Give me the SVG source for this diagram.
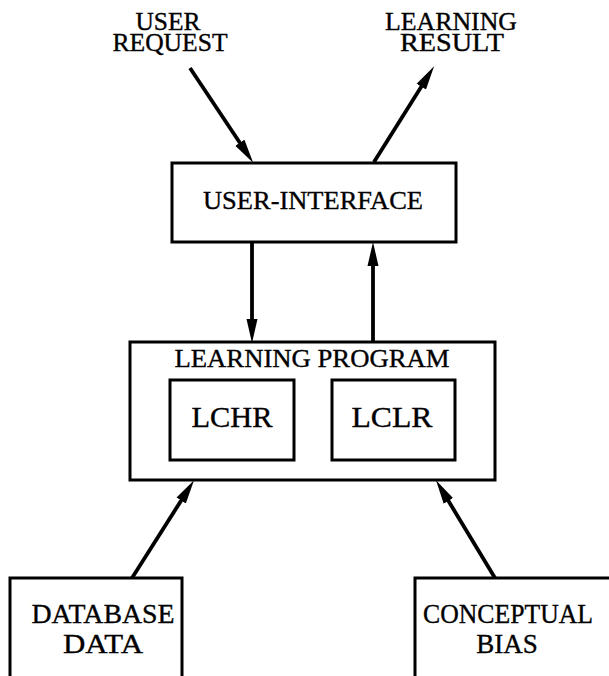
<svg xmlns="http://www.w3.org/2000/svg" width="609" height="676" viewBox="0 0 609 676">
<style>
.box{fill:#fff;stroke:#000;stroke-width:3}
.lbl{font-family:"Liberation Serif","Times New Roman",serif;font-size:26px;fill:#000;stroke:#000;stroke-width:0.35;text-anchor:middle}
.top{font-size:25px}
.big{font-size:30px}
.low{font-size:27px}
.conn{stroke:#000;stroke-width:3.8;fill:none;marker-end:url(#ah)}
</style>
<defs>
<marker id="ah" markerUnits="userSpaceOnUse" markerWidth="26" markerHeight="12" refX="12" refY="6" orient="auto">
<path d="M0,0.5 L24,6 L0,11.5 Z" fill="#000"/>
</marker>
</defs>
<rect width="609" height="676" fill="#fff"/>
<g id="user-request">
<text class="lbl top" x="168" y="30" textLength="65" lengthAdjust="spacingAndGlyphs">USER</text>
<text class="lbl top" x="170" y="51" textLength="115" lengthAdjust="spacingAndGlyphs">REQUEST</text>
</g>
<g id="learning-result">
<text class="lbl top" x="451" y="30" textLength="132" lengthAdjust="spacingAndGlyphs">LEARNING</text>
<text class="lbl top" x="452" y="51" textLength="104" lengthAdjust="spacingAndGlyphs">RESULT</text>
</g>
<g id="user-interface">
<rect class="box" x="172" y="163" width="284" height="79"/>
<text class="lbl" x="313" y="209" textLength="220" lengthAdjust="spacingAndGlyphs">USER-INTERFACE</text>
</g>
<g id="learning-program">
<rect class="box" x="130" y="342" width="365" height="138"/>
<text class="lbl" x="312" y="367" textLength="275" lengthAdjust="spacingAndGlyphs">LEARNING PROGRAM</text>
</g>
<g id="lchr">
<rect class="box" x="170" y="380" width="124" height="80"/>
<text class="lbl big" x="232" y="427" textLength="81" lengthAdjust="spacingAndGlyphs">LCHR</text>
</g>
<g id="lclr">
<rect class="box" x="332" y="380" width="123" height="80"/>
<text class="lbl big" x="392" y="427" textLength="81" lengthAdjust="spacingAndGlyphs">LCLR</text>
</g>
<g id="database-data">
<rect class="box" x="10" y="578" width="172" height="110"/>
<text class="lbl low" x="103" y="623" textLength="143" lengthAdjust="spacingAndGlyphs">DATABASE</text>
<text class="lbl low" x="103" y="653" textLength="80" lengthAdjust="spacingAndGlyphs">DATA</text>
</g>
<g id="conceptual-bias">
<rect class="box" x="415" y="578" width="210" height="110"/>
<text class="lbl low" x="508" y="623" textLength="170" lengthAdjust="spacingAndGlyphs">CONCEPTUAL</text>
<text class="lbl low" x="507" y="653">BIAS</text>
</g>
<g id="connectors">
<line class="conn" x1="190" y1="68" x2="246.5" y2="152.7"/>
<line class="conn" x1="374" y1="162" x2="427.7" y2="76.5"/>
<line class="conn" x1="252" y1="243" x2="252" y2="331"/>
<line class="conn" x1="373" y1="341" x2="373" y2="254"/>
<line class="conn" x1="132" y1="578" x2="187.6" y2="490.4"/>
<line class="conn" x1="495" y1="578" x2="442.2" y2="490.6"/>
</g>
</svg>
